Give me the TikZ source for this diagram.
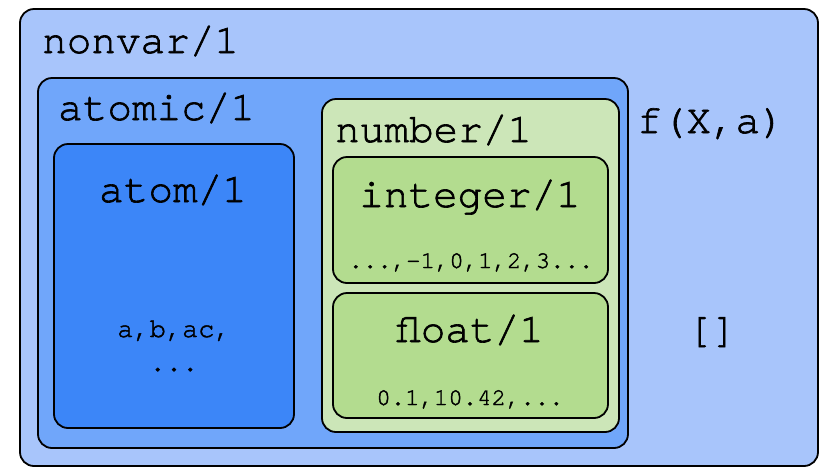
\documentclass[tikz,border=0pt]{standalone}
\usepackage{fontspec}
\usepackage{xcolor}
\newfontfamily\cursorfont[BoldFont=texgyrecursor-regular.otf, BoldFeatures={FakeBold=1.6}]{texgyrecursor-regular.otf}

\definecolor{nonvarblue}{RGB}{168,197,251}
\definecolor{atomicblue}{RGB}{112,166,250}
\definecolor{atomblue}{RGB}{60,134,248}
\definecolor{numbergreen}{RGB}{204,230,184}
\definecolor{intgreen}{RGB}{179,220,143}

\tikzset{
  typebox/.style={draw=black, line width=1.8pt, rounded corners=14pt},
  biglabel/.style={font=\cursorfont\bfseries\fontsize{41}{46}\selectfont, inner sep=0pt},
  smalllabel/.style={font=\cursorfont\bfseries\fontsize{24}{28}\selectfont, inner sep=0pt}
}

\begin{document}
\begin{tikzpicture}[x=1pt, y=-1pt]
      \useasboundingbox (0,0) rectangle (820,467);

      % nonvar/1
      \draw[typebox, fill=nonvarblue] (20,9) rectangle (818,466);
      \node[biglabel, anchor=base west] (nonvar) at (42,53) {nonvar/1};
      \node[biglabel, anchor=base west] (compound) at (637,133) {f(X,a)};
      \node[biglabel, anchor=base] (emptylist) at (712,342) {[]};

      % atomic/1
      \draw[typebox, fill=atomicblue] (38,78) rectangle (628,448);
      \node[biglabel, anchor=base west] (atomic) at (58,120) {atomic/1};

      % atom/1
      \draw[typebox, fill=atomblue] (54,144) rectangle (294,428);
      \node[biglabel, anchor=base] (atom) at (173,202) {atom/1};
      \node[smalllabel, anchor=base, font=\cursorfont\bfseries\fontsize{27}{30}\selectfont] (atomex) at (174,337) {a,b,ac,};
      \node[smalllabel, anchor=base, font=\cursorfont\bfseries\fontsize{27}{30}\selectfont] (atomdots) at (174,371) {...};

      % number/1
      \draw[typebox, fill=numbergreen] (322,99) rectangle (619,432);
      \node[biglabel, anchor=base west] (number) at (335,142) {number/1};

      % integer/1 and float/1
      \draw[typebox, fill=intgreen] (333,157) rectangle (608,283);
      \node[biglabel, anchor=base] (integer) at (470,207) {integer/1};
      \node[smalllabel, anchor=base] (intex) at (471,268) {...,-1,0,1,2,3...};
      \draw[typebox, fill=intgreen] (333,293) rectangle (608,418);
      \node[biglabel, anchor=base] (float) at (470,342) {float/1};
      \node[smalllabel, anchor=base] (floatex) at (470,405) {0.1,10.42,...};
\end{tikzpicture}
\end{document}
